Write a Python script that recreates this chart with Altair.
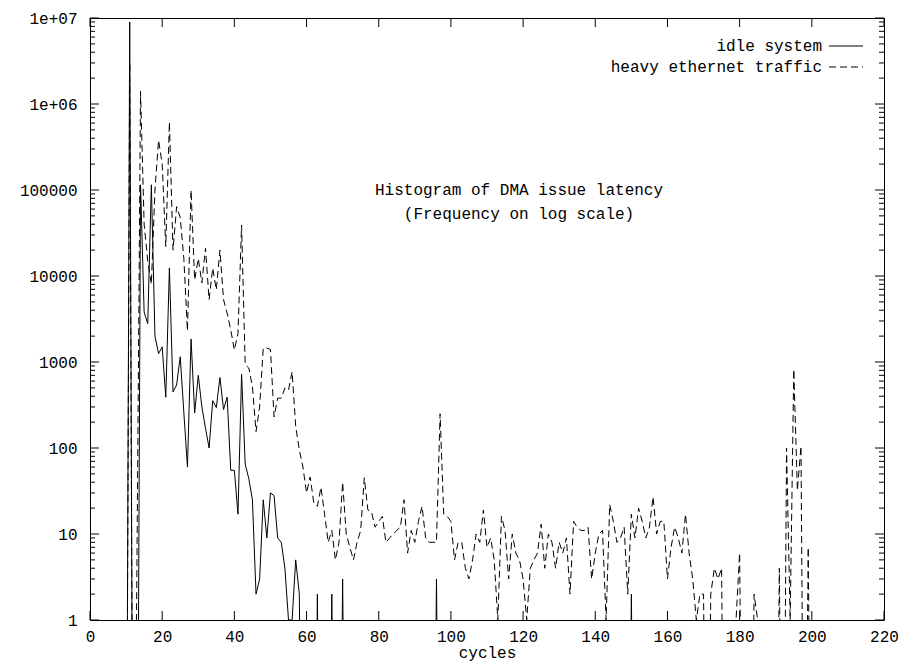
import altair as alt
import pandas as pd

# ---------------- data ----------------
cycles = list(range(10, 201))

idle_system = (
    [0, 9000000, 0, 0, 115000, 3800, 2800, 115000, 2000, 1250,          # 10-19
     1500, 390, 12400, 450, 540, 1150, 260, 60, 1850, 255,              # 20-29
     700, 300, 170, 100, 355, 295, 660, 280, 390, 55,                   # 30-39
     55, 17, 720, 65, 44, 25, 2, 3, 25, 9,                              # 40-49
     30, 28, 9, 8, 4, 1, 1, 5, 2, 0,                                    # 50-59
     0, 0, 0, 2, 0, 0, 0, 2, 0, 0,                                      # 60-69
     3] + [0] * 25 +                                                    # 70-95
    [3] + [0] * 53 +                                                    # 96-149
    [2] + [0] * 50                                                      # 150-200
)

heavy_traffic = [
    0, 3000000, 0, 4, 1400000, 40000, 15000, 8000, 100000, 380000,      # 10-19
    200000, 22000, 620000, 20000, 64000, 48000, 16000, 2300, 100000, 9000,  # 20-29
    16000, 8300, 21000, 5300, 12400, 6900, 20000, 5300, 3700, 2350,     # 30-39
    1380, 2150, 39000, 930, 850, 520, 155, 300, 1450, 1450,             # 40-49
    1400, 230, 380, 380, 500, 470, 770, 177, 95, 60,                    # 50-59
    30, 46, 23, 21, 35, 17, 8, 11, 5, 8,                                # 60-69
    40, 10, 7, 5, 8, 11, 45, 19, 18, 12,                                # 70-79
    14, 16, 8, 9, 10, 11, 12, 25, 6, 11,                                # 80-89
    8, 14, 21, 9, 8, 8, 8, 250, 17, 16,                                 # 90-99
    14, 5, 8, 8, 4, 3, 5, 10, 8, 19,                                    # 100-109
    7, 9, 5, 1, 16, 11, 3, 10, 6, 5,                                    # 110-119
    3, 1, 4, 5, 6, 13, 4, 10, 8, 4,                                     # 120-129
    8, 6, 9, 2, 14, 12, 11, 11, 12, 3,                                  # 130-139
    6, 10, 11, 1, 22, 14, 8, 9, 12, 2,                                  # 140-149
    17, 9, 20, 14, 9, 12, 27, 10, 14, 14,                               # 150-159
    3, 7, 12, 9, 6, 17, 6, 3, 1, 2,                                     # 160-169
    2, 0, 2, 4, 3, 4, 0, 0, 0, 1,                                       # 170-179
    6, 0, 0, 0, 2, 1, 0, 0, 0, 0,                                       # 180-189
    0, 4, 0, 100, 1, 820, 32, 105, 0, 7,                                # 190-199
    0,                                                                  # 200
]

series_names = ["idle system", "heavy ethernet traffic"]
x_tick_values = list(range(0, 221, 20))
y_tick_values = [1, 10, 100, 1000, 10000, 100000, 1000000, 10000000]
y_minor_values = [m * 10 ** k for k in range(7) for m in range(2, 10)]
title_lines = ["Histogram of DMA issue latency", "(Frequency on log scale)"]

# ---------------- chart ----------------
W, H = 794, 602
FONT = "Liberation Mono"
FS = 16

df = pd.DataFrame({
    "cycles": cycles * 2,
    "freq": idle_system + heavy_traffic,
    "series": [series_names[0]] * len(cycles) + [series_names[1]] * len(cycles),
})

xscale = alt.Scale(domain=[0, 220], nice=False, zero=False)
yscale = alt.Scale(type="log", domain=[1, 10000000], nice=False)

xaxis = alt.Axis(values=x_tick_values, tickSize=0, domain=False, grid=False,
                 labelPadding=8, title="cycles", titlePadding=0,
                 labelFlush=False)
yaxis = alt.Axis(values=y_tick_values, tickSize=0, domain=False, grid=False,
                 labelPadding=13, title=None,
                 labelExpr="datum.value >= 1000000 ? '1e+0' + round(log(datum.value)/LN10) : format(datum.value, 'd')")

base = alt.Chart(df).transform_calculate(plotted="max(datum.freq, 0.0001)")

solid = base.transform_filter(alt.datum.series == series_names[0]).mark_line(
    color="black", strokeWidth=1, clip=True
).encode(
    x=alt.X("cycles:Q", scale=xscale, axis=xaxis),
    y=alt.Y("plotted:Q", scale=yscale, axis=yaxis),
)

dashed = base.transform_filter(alt.datum.series == series_names[1]).mark_line(
    color="black", strokeWidth=1, clip=True, strokeDash=[7, 4]
).encode(
    x=alt.X("cycles:Q", scale=xscale, axis=xaxis),
    y=alt.Y("plotted:Q", scale=yscale, axis=yaxis),
)

xt = pd.DataFrame({"v": x_tick_values})
yt = pd.DataFrame({"v": y_tick_values})
ym = pd.DataFrame({"v": y_minor_values})

def xtick(y1, y2):
    return alt.Chart(xt).mark_rule(color="black", strokeWidth=1).encode(
        x=alt.X("v:Q", scale=xscale, axis=xaxis), y=alt.value(y1), y2=alt.value(y2))

def ytick(data, x1, x2):
    return alt.Chart(data).mark_rule(color="black", strokeWidth=1).encode(
        y=alt.Y("v:Q", scale=yscale, axis=yaxis), x=alt.value(x1), x2=alt.value(x2))

ticks = [
    xtick(H, H - 9), xtick(0, 9),
    ytick(yt, 0, 9), ytick(yt, W, W - 9),
    ytick(ym, 0, 5), ytick(ym, W, W - 5),
]

lab = pd.DataFrame({"t": [series_names[0]]})
lab2 = pd.DataFrame({"t": [series_names[1]]})
tl1 = pd.DataFrame({"t": [title_lines[0]]})
tl2 = pd.DataFrame({"t": [title_lines[1]]})

def text_layer(d, x, y, align):
    return alt.Chart(d).mark_text(font=FONT, fontSize=FS, color="black",
                                  align=align, baseline="middle").encode(
        text="t:N", x=alt.value(x), y=alt.value(y))

legend = [
    text_layer(lab, 732, 28, "right"),
    alt.Chart(lab).mark_rule(color="black", strokeWidth=1).encode(
        x=alt.value(739), x2=alt.value(773), y=alt.value(28)),
    text_layer(lab2, 732, 49, "right"),
    alt.Chart(lab2).mark_rule(color="black", strokeWidth=1, strokeDash=[7, 4]).encode(
        x=alt.value(739), x2=alt.value(773), y=alt.value(49)),
]

titles = [
    text_layer(tl1, 429, 172, "center"),
    text_layer(tl2, 429, 196, "center"),
]

chart = alt.layer(solid, dashed, *ticks, *legend, *titles).properties(
    width=W, height=H,
    autosize=alt.AutoSizeParams(type="none"),
    padding={"left": 90, "top": 18, "right": 20, "bottom": 42},
    background="white",
).configure_view(
    stroke="black", strokeWidth=1
).configure_axis(
    labelFont=FONT, labelFontSize=FS, labelColor="black",
    titleFont=FONT, titleFontSize=FS, titleColor="black", titleFontWeight="normal",
)

chart.save("out.html", embed_options={"renderer": "svg", "actions": False})
